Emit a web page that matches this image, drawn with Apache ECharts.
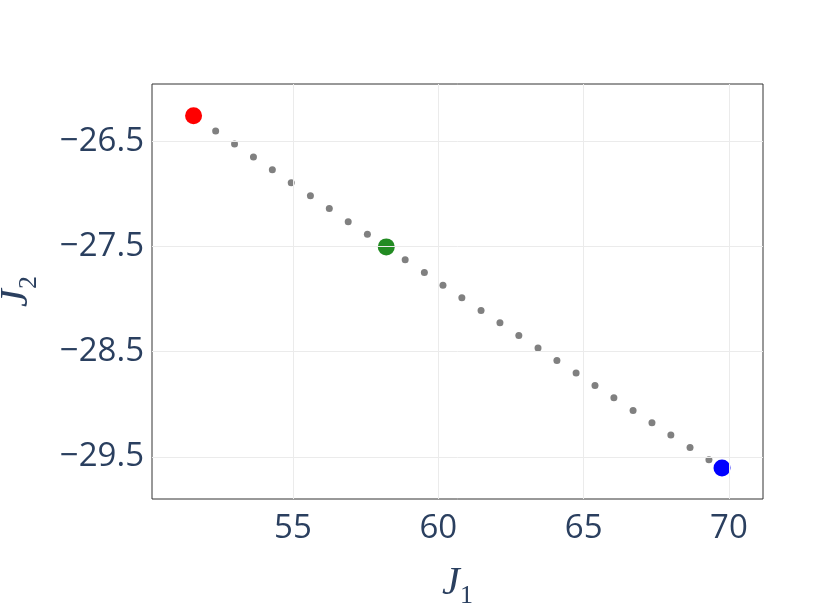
<!DOCTYPE html>
<html>
<head>
<meta charset="utf-8">
<script src="https://cdn.jsdelivr.net/npm/echarts@6/dist/echarts.min.js"></script>
<style>html,body{margin:0;padding:0;background:#fff;}#c{width:831px;height:610px;}</style>
</head>
<body>
<div id="c"></div>
<script>
// Intermediate points (gray)
const midX = [52.34, 52.99, 53.64, 54.29, 54.94, 55.60, 56.25, 56.90, 57.56,
  58.86, 59.52, 60.16, 60.81, 61.47, 62.12, 62.77, 63.43, 64.08, 64.74, 65.39,
  66.04, 66.70, 67.35, 68.00, 68.66, 69.31];
const midY = [-26.402, -26.526, -26.650, -26.772, -26.895, -27.019, -27.140, -27.264, -27.383,
  -27.627, -27.748, -27.868, -27.988, -28.109, -28.226, -28.346, -28.466, -28.584, -28.703, -28.821,
  -28.938, -29.059, -29.175, -29.292, -29.410, -29.527];
// Highlighted points
const redPt = [51.58, -26.257];
const greenPt = [58.21, -27.504];
const bluePt = [69.76, -29.605];
// Axis ticks
const xTicks = [55, 60, 65, 70];
const yTicks = [-26.5, -27.5, -28.5, -29.5];
const xRange = [50.15, 71.17];
const yRange = [-29.9, -25.956];

const midData = midX.map((x, i) => [x, midY[i]]);
const fmt = v => (v < 0 ? '\u2212' + Math.abs(v).toFixed(1) : String(v));
const txt = '#2a3f5f';
const nameRich = () => ({
  j: {fontFamily: 'Liberation Serif', fontStyle: 'italic', fontSize: 40, color: txt},
  s: {fontFamily: 'Liberation Serif', fontSize: 26, color: txt, verticalAlign: 'bottom', padding: [0, 0, -6, 0]}
});

const chart = echarts.init(document.getElementById('c'), null, {renderer: 'canvas'});
chart.setOption({
  animation: false,
  backgroundColor: '#fff',
  grid: {left: 152, right: 68, top: 84, bottom: 111, outerBoundsMode: 'none', containLabel: false,
    show: true, borderColor: '#333', borderWidth: 1, backgroundColor: '#fff'},
  xAxis: {
    type: 'value', min: xRange[0], max: xRange[1],
    splitLine: {show: false}, axisLine: {show: false}, axisTick: {show: false},
    axisLabel: {customValues: xTicks, color: txt, fontSize: 33, fontFamily: 'Open Sans', margin: 13, formatter: v => String(v)},
    name: '{j|J}{s|1}', nameLocation: 'middle', nameGap: 64,
    nameTextStyle: {rich: nameRich()}
  },
  yAxis: {
    type: 'value', min: yRange[0], max: yRange[1],
    splitLine: {show: false}, axisLine: {show: false}, axisTick: {show: false},
    axisLabel: {customValues: yTicks, color: txt, fontSize: 33, fontFamily: 'Open Sans', margin: 8, formatter: fmt},
    name: '{j|J}{s|2}', nameLocation: 'middle', nameGap: 116,
    nameTextStyle: {rich: nameRich()}
  },
  series: [
    {
      type: 'scatter', z: 1, symbolSize: 0, data: midData, silent: true,
      markLine: {
        silent: true, symbol: 'none', animation: false,
        label: {show: false},
        lineStyle: {color: '#ebebeb', width: 1, type: 'solid'},
        emphasis: {disabled: true},
        data: xTicks.map(v => ({xAxis: v})).concat(yTicks.map(v => ({yAxis: v})))
      }
    },
    {type: 'scatter', z: 3, symbolSize: 7, itemStyle: {color: '#808080', opacity: 1}, data: midData},
    {type: 'scatter', z: 4, symbolSize: 17, itemStyle: {color: '#ff0000', opacity: 1}, data: [redPt]},
    {type: 'scatter', z: 4, symbolSize: 17, itemStyle: {color: '#228b22', opacity: 1}, data: [greenPt]},
    {type: 'scatter', z: 4, symbolSize: 17, itemStyle: {color: '#0000ff', opacity: 1}, data: [bluePt]}
  ]
});
</script>
</body>
</html>
